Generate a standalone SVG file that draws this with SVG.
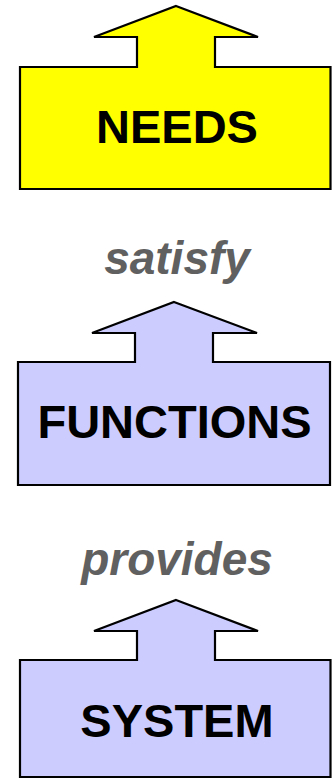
<svg xmlns="http://www.w3.org/2000/svg" width="332" height="781" viewBox="0 0 332 781">
  <style>
    .shape { stroke: #000000; stroke-width: 2.2; stroke-linejoin: miter; }
    .yellow { fill: #FFFF00; }
    .lilac { fill: #CCCCFF; }
    .title { font-family: "Liberation Sans", Arial, sans-serif; font-weight: bold; font-size: 47px; fill: #000000; text-anchor: middle; }
    .verb { font-family: "Liberation Sans", Arial, sans-serif; font-weight: bold; font-style: italic; font-size: 46px; fill: #606060; text-anchor: middle; }
  </style>
  <rect width="332" height="781" fill="#FFFFFF"/>

  <!-- relation labels between the blocks -->
  <g id="connectors">
    <text class="verb" x="177" y="274">satisfy</text>
    <text class="verb" x="177" y="575">provides</text>
  </g>

  <g id="needs">
    <path class="shape yellow" d="M176,6 L258,37 L215,37 L215,67 L330.5,67 L330.5,189 L20,189 L20,67 L137,67 L137,37 L94,37 Z"/>
    <text class="title" x="177" y="143">NEEDS</text>
  </g>

  <g id="functions">
    <path class="shape lilac" d="M174,302 L257,333 L213,333 L213,362 L330,362 L330,485 L18,485 L18,362 L135,362 L135,333 L92,333 Z"/>
    <text class="title" x="174.5" y="438">FUNCTIONS</text>
  </g>

  <g id="system">
    <path class="shape lilac" d="M176,600 L258,631 L215,631 L215,660 L330.5,660 L330.5,777 L20,777 L20,660 L137,660 L137,631 L94,631 Z"/>
    <text class="title" x="177" y="737">SYSTEM</text>
  </g>
</svg>
